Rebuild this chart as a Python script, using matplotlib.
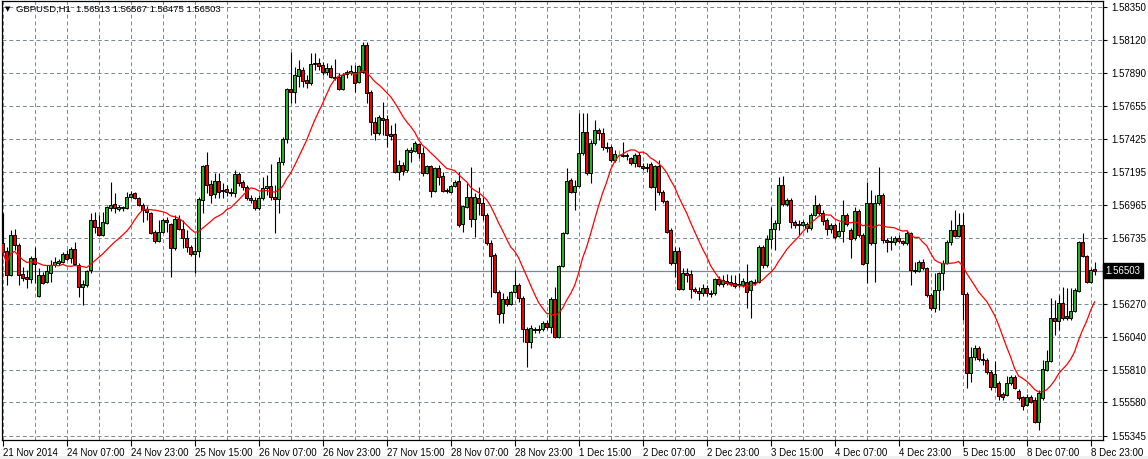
import numpy as np
import pandas as pd
import matplotlib
matplotlib.use('Agg')
import matplotlib.pyplot as plt
import matplotlib.transforms as mtransforms
from matplotlib.patches import Rectangle

plt.rcParams['font.family'] = ['Liberation Sans', 'DejaVu Sans']

symbol = 'GBPUSD,H1'
ma_period = 14

# prices in points (1e-5), hourly bars 21 Nov 2014 15:00 .. 9 Dec 2014 00:00
open_pts = [
    156699, 156643, 156475, 156755, 156685, 156482, 156461, 156447, 156594, 156328,
    156475, 156426, 156489, 156545, 156559, 156566, 156622, 156594, 156657, 156545,
    156391, 156405, 156510, 156860, 156811, 156755, 156839, 156944, 156972, 156937,
    156944, 156944, 157021, 157049, 157014, 156965, 156937, 156909, 156776, 156713,
    156776, 156860, 156832, 156664, 156867, 156797, 156734, 156671, 156622, 156643,
    157000, 157245, 157112, 157042, 157133, 157063, 157077, 157056, 157049, 157182,
    157126, 157091, 157014, 157000, 156944, 157014, 157084, 157098, 157021, 157007,
    157266, 157427, 157777, 157756, 157868, 157910, 157840, 157819, 157952, 157959,
    157945, 157896, 157924, 157861, 157861, 157777, 157882, 157889, 157896, 157826,
    157896, 158085, 157756, 157546, 157469, 157574, 157567, 157462, 157462, 157196,
    157245, 157210, 157336, 157343, 157392, 157329, 157189, 157238, 157063, 157224,
    157168, 157070, 157056, 157098, 157133, 156832, 156951, 157021, 156867, 157014,
    156979, 156895, 156699, 156615, 156356, 156209, 156307, 156272, 156356, 156405,
    156314, 156097, 156006, 156090, 156097, 156097, 156139, 156111, 156307, 156041,
    156538, 156769, 157140, 157056, 157098, 157329, 157476, 157189, 157399, 157490,
    157469, 157371, 157371, 157280, 157315, 157308, 157315, 157294, 157259, 157315,
    157238, 157231, 157252, 157091, 157238, 157056, 156993, 156790, 156559, 156643,
    156377, 156489, 156482, 156377, 156363, 156349, 156384, 156349, 156349, 156447,
    156412, 156433, 156426, 156419, 156412, 156405, 156426, 156370, 156419, 156426,
    156671, 156545, 156727, 156797, 156839, 157105, 156972, 157000, 156846, 156832,
    156825, 156804, 156804, 156895, 156965, 156909, 156860, 156797, 156825, 156748,
    156783, 156895, 156790, 156734, 156923, 156755, 156559, 156979, 156699, 156979,
    157035, 156720, 156713, 156706, 156734, 156713, 156699, 156769, 156510, 156503,
    156566, 156524, 156335, 156244, 156370, 156489, 156559, 156706, 156790, 156748,
    156825, 156342, 155789, 155901, 155964, 155887, 155880, 155796, 155691, 155719,
    155642, 155635, 155719, 155761, 155663, 155621, 155565, 155621, 155600, 155446,
    155614, 155810, 155873, 156174, 156153, 156279, 156188, 156174, 156223, 156363,
    156706, 156608, 156426, 156513]
high_pts = [
    156909, 156671, 156790, 156797, 156699, 156531, 156510, 156608, 156671, 156524,
    156496, 156545, 156580, 156601, 156587, 156636, 156650, 156671, 156706, 156559,
    156440, 156510, 156909, 156916, 156895, 156916, 156958, 157126, 157049, 156965,
    156958, 157056, 157063, 157056, 157021, 156979, 156958, 156916, 156790, 156860,
    156874, 156881, 156839, 156895, 156895, 156860, 156790, 156685, 156741, 157021,
    157245, 157336, 157140, 157189, 157189, 157119, 157105, 157084, 157210, 157196,
    157140, 157105, 157035, 157021, 157035, 157161, 157175, 157252, 157105, 157301,
    157441, 157784, 158036, 157931, 157980, 157931, 157875, 158029, 158029, 157994,
    157966, 157959, 157945, 157987, 157889, 157889, 157910, 157945, 157945, 157945,
    158106, 158106, 157770, 157581, 157595, 157686, 157595, 157525, 157539, 157280,
    157266, 157364, 157371, 157413, 157399, 157371, 157245, 157245, 157231, 157245,
    157196, 157084, 157105, 157140, 157196, 156965, 157119, 157231, 157049, 157091,
    157021, 156909, 156720, 156629, 156370, 156349, 156328, 156363, 156510, 156419,
    156328, 156111, 156125, 156111, 156125, 156153, 156160, 156321, 156391, 156545,
    156776, 157224, 157154, 157140, 157609, 157609, 157609, 157420, 157560, 157504,
    157504, 157406, 157385, 157350, 157350, 157406, 157329, 157301, 157329, 157336,
    157259, 157259, 157266, 157245, 157280, 157070, 157000, 156804, 156671, 156671,
    156524, 156524, 156510, 156391, 156391, 156412, 156405, 156370, 156454, 156468,
    156475, 156482, 156475, 156475, 156489, 156454, 156552, 156440, 156447, 156685,
    156685, 156755, 156951, 156860, 157161, 157168, 157014, 157014, 156860, 156860,
    156860, 156846, 156909, 157035, 156979, 156930, 156874, 156839, 156839, 156846,
    157000, 156909, 156804, 156951, 156937, 156769, 157126, 157070, 157035, 157231,
    157049, 156734, 156748, 156748, 156755, 156720, 156790, 156776, 156566, 156580,
    156587, 156531, 156349, 156489, 156496, 156580, 156720, 156860, 156930, 156909,
    156909, 156356, 155971, 155985, 155978, 155929, 155894, 155810, 155873, 155733,
    155656, 155768, 155775, 155775, 155677, 155628, 155642, 155635, 155621, 155670,
    155880, 155950, 156314, 156300, 156335, 156391, 156384, 156384, 156384, 156713,
    156769, 156615, 156524, 156567]
low_pts = [
    156615, 156405, 156468, 156650, 156405, 156433, 156384, 156419, 156419, 156321,
    156412, 156419, 156426, 156531, 156545, 156559, 156580, 156559, 156545, 156321,
    156265, 156391, 156489, 156769, 156748, 156748, 156832, 156923, 156909, 156923,
    156923, 156937, 157014, 157007, 156958, 156846, 156860, 156762, 156699, 156706,
    156769, 156776, 156461, 156650, 156790, 156664, 156636, 156608, 156489, 156601,
    156909, 157049, 156979, 157014, 157014, 157014, 157028, 157028, 157021, 157098,
    157070, 157000, 156979, 156930, 156930, 157000, 157035, 157000, 156769, 156909,
    157245, 157399, 157679, 157679, 157791, 157791, 157784, 157805, 157910, 157910,
    157875, 157875, 157854, 157840, 157770, 157770, 157854, 157875, 157756, 157819,
    157889, 157679, 157455, 157420, 157455, 157455, 157371, 157420, 157189, 157140,
    157175, 157196, 157266, 157336, 157294, 157168, 157182, 157021, 157056, 157105,
    157056, 157049, 157049, 157091, 156811, 156776, 156944, 156811, 156741, 156895,
    156860, 156685, 156321, 156349, 156139, 156139, 156258, 156265, 156349, 156286,
    156000, 155831, 155964, 156069, 156069, 156083, 156097, 156069, 156034, 156034,
    156531, 156762, 157049, 156930, 157091, 157315, 157175, 157119, 157385, 157420,
    157350, 157336, 157266, 157266, 157266, 157301, 157280, 157245, 157231, 157231,
    157210, 157196, 157084, 156930, 157035, 156979, 156769, 156545, 156461, 156370,
    156370, 156426, 156314, 156349, 156300, 156328, 156328, 156321, 156335, 156398,
    156391, 156405, 156398, 156384, 156391, 156391, 156244, 156174, 156405, 156419,
    156524, 156531, 156664, 156650, 156790, 156958, 156958, 156804, 156804, 156755,
    156818, 156776, 156790, 156888, 156895, 156825, 156755, 156769, 156727, 156741,
    156706, 156818, 156594, 156720, 156741, 156545, 156419, 156685, 156426, 156965,
    156699, 156636, 156650, 156685, 156699, 156685, 156685, 156405, 156489, 156496,
    156510, 156321, 156230, 156216, 156230, 156370, 156552, 156685, 156741, 156741,
    156160, 155684, 155726, 155880, 155873, 155845, 155782, 155670, 155684, 155600,
    155600, 155628, 155705, 155677, 155600, 155530, 155558, 155579, 155439, 155390,
    155600, 155803, 155866, 156055, 156090, 156160, 156160, 156160, 156216, 156356,
    156601, 156419, 156419, 156475]
close_pts = [
    156636, 156475, 156755, 156685, 156475, 156454, 156447, 156594, 156552, 156475,
    156419, 156503, 156545, 156566, 156573, 156622, 156587, 156657, 156552, 156391,
    156412, 156503, 156860, 156811, 156755, 156846, 156951, 156965, 156944, 156951,
    156951, 157021, 157042, 157014, 156965, 156930, 156916, 156769, 156713, 156776,
    156860, 156846, 156664, 156867, 156797, 156734, 156671, 156622, 156643, 157007,
    157238, 157105, 157035, 157133, 157056, 157070, 157056, 157049, 157182, 157119,
    157091, 157014, 157000, 156944, 157014, 157084, 157098, 157021, 157007, 157266,
    157427, 157777, 157756, 157875, 157917, 157833, 157819, 157952, 157959, 157938,
    157896, 157924, 157861, 157854, 157777, 157875, 157896, 157903, 157819, 157938,
    158085, 157749, 157546, 157469, 157581, 157560, 157455, 157448, 157196, 157245,
    157203, 157350, 157350, 157399, 157329, 157189, 157238, 157063, 157224, 157161,
    157063, 157063, 157098, 157126, 156825, 156958, 157021, 156867, 157021, 156979,
    156895, 156699, 156608, 156356, 156202, 156307, 156272, 156356, 156405, 156314,
    156097, 156006, 156104, 156097, 156090, 156139, 156111, 156307, 156041, 156538,
    156769, 157133, 157056, 157098, 157329, 157476, 157189, 157399, 157490, 157469,
    157371, 157364, 157280, 157322, 157315, 157315, 157308, 157259, 157315, 157238,
    157224, 157224, 157091, 157238, 157056, 156993, 156776, 156559, 156643, 156377,
    156489, 156475, 156377, 156363, 156349, 156384, 156349, 156342, 156447, 156412,
    156440, 156419, 156412, 156398, 156405, 156433, 156356, 156433, 156426, 156671,
    156545, 156727, 156797, 156839, 157105, 156972, 157000, 156846, 156825, 156825,
    156846, 156832, 156895, 156965, 156909, 156853, 156797, 156825, 156741, 156783,
    156895, 156832, 156727, 156923, 156755, 156552, 156979, 156699, 156979, 157035,
    156720, 156706, 156706, 156734, 156713, 156699, 156769, 156510, 156503, 156566,
    156524, 156335, 156244, 156370, 156489, 156559, 156706, 156790, 156748, 156825,
    156342, 155789, 155901, 155964, 155887, 155880, 155796, 155691, 155782, 155628,
    155621, 155719, 155761, 155684, 155614, 155558, 155621, 155586, 155446, 155649,
    155817, 155873, 156174, 156153, 156279, 156174, 156174, 156223, 156370, 156706,
    156608, 156426, 156510, 156503]

time_labels = ['21 Nov 2014', '24 Nov 07:00', '24 Nov 23:00', '25 Nov 15:00',
               '26 Nov 07:00', '26 Nov 23:00', '27 Nov 15:00', '28 Nov 07:00',
               '28 Nov 23:00', '1 Dec 15:00', '2 Dec 07:00', '2 Dec 23:00',
               '3 Dec 15:00', '4 Dec 07:00', '4 Dec 23:00', '5 Dec 15:00',
               '8 Dec 07:00', '8 Dec 23:00']
price_ticks = [1.58350, 1.58120, 1.57890, 1.57655, 1.57425, 1.57195, 1.56965,
               1.56735, 1.56270, 1.56040, 1.55810, 1.55580, 1.55345]

o = np.array(open_pts) / 1e5
h = np.array(high_pts) / 1e5
l = np.array(low_pts) / 1e5
c = np.array(close_pts) / 1e5
n = len(c)
x = np.arange(n)

W, H = 1148, 459
fig = plt.figure(figsize=(W / 100, H / 100), dpi=100)
fig.add_artist(Rectangle((0, 0), 1, 3 / H, transform=fig.transFigure,
                         color='#f0f0f0', lw=0))
ax = fig.add_axes([1.5 / W, 19 / H, (1103 - 1.5) / W, 439 / H])

grid_col = '#778899'
dash = (0, (4, 3))

up = c > o
dn = c < o
dj = c == o
green = '#1eb41e'
red = '#f20000'
wick_cols = np.where(dj, '#00ff00', 'black')
ax.vlines(x, l, h, colors=wick_cols, lw=0.8, zorder=3)
bw = 0.72
minh = 0.00003
ax.bar(x[up], np.maximum((c - o)[up], minh), bottom=o[up], width=bw,
       color=green, edgecolor='black', linewidth=0.7, zorder=4)
ax.bar(x[dn], np.maximum((o - c)[dn], minh), bottom=c[dn], width=bw,
       color=red, edgecolor='black', linewidth=0.7, zorder=4)
ax.hlines(o[dj], x[dj] - bw / 2, x[dj] + bw / 2, colors='#00ff00', lw=0.9, zorder=4)

# moving average
ma = pd.Series(c).rolling(ma_period, min_periods=1).mean()
ax.plot(x, ma, color='red', lw=0.9, zorder=5)

# bid line
ax.axhline(c[-1], color=grid_col, lw=0.9, zorder=1)

ax.set_xlim(-0.3, 275.1)
ax.set_ylim(1.55317, 1.58392)

label_pos = np.arange(0, 16 * len(time_labels), 16)
ax.set_xticks(label_pos)
ax.set_xticklabels(time_labels, fontsize=7)
for t in ax.get_xticklabels():
    t.set_ha('left')
ax.set_xticks(np.arange(8, n, 16), minor=True)
ax.tick_params(axis='x', which='major', length=4, width=0.8, pad=2, colors='black')
ax.tick_params(axis='x', which='minor', length=0)
ax.grid(True, axis='x', which='both', color=grid_col, ls=dash, lw=0.7, zorder=0)

ax.yaxis.tick_right()
ax.set_yticks(price_ticks)
ax.set_yticklabels([f'{p:.5f}' for p in price_ticks], fontsize=7)
ax.tick_params(axis='y', length=3, width=0.8, pad=3, colors='black')
ax.grid(True, axis='y', color=grid_col, ls=dash, lw=0.7, zorder=0)
ax.set_axisbelow(True)

for s in ax.spines.values():
    s.set_linewidth(0.9)
    s.set_color('black')

trans = mtransforms.blended_transform_factory(ax.transAxes, ax.transData)
ax.text(1.002, c[-1], f'{c[-1]:.5f}', transform=trans, color='white', fontsize=7,
        va='center', ha='left', zorder=10, clip_on=False,
        bbox=dict(boxstyle='square,pad=0.25', fc='black', ec='black'))

fig.text(5 / W, 1 - 9 / H, '\u25BC', fontsize=5, va='center', ha='left',
         family=['DejaVu Sans'])
fig.text(16 / W, 1 - 9 / H,
         f'{symbol}  {o[-1]:.5f} {h[-1]:.5f} {l[-1]:.5f} {c[-1]:.5f}',
         fontsize=6.8, va='center', ha='left', color='black')

fig.savefig('out.png', dpi=100)
